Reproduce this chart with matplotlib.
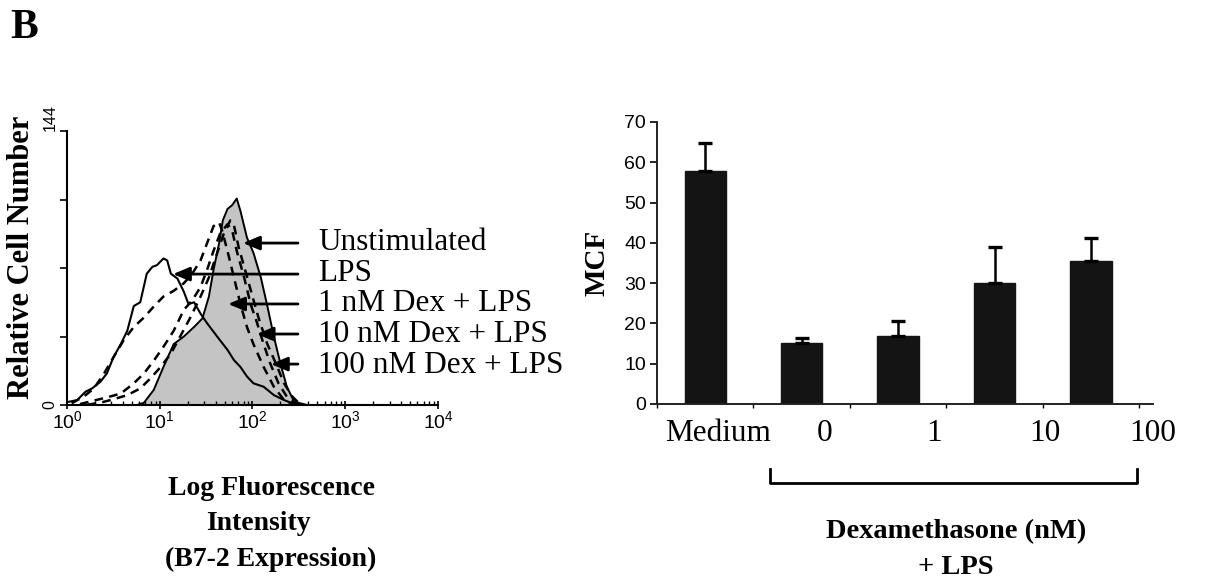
import numpy as np
import matplotlib
matplotlib.use('Agg')
import matplotlib.pyplot as plt
from matplotlib.lines import Line2D

W, H = 1208, 582
plt.rcParams['font.family'] = ['Liberation Sans', 'DejaVu Sans']
plt.rcParams['mathtext.fontset'] = 'custom'
plt.rcParams['mathtext.rm'] = 'Liberation Sans'
SERIF = ['Liberation Serif', 'DejaVu Serif']

# ---------------- data: histogram (log10 fluorescence, relative cell number) ----
unstim_logx = [0.755, 0.83, 0.935, 1.04, 1.15, 1.26, 1.37, 1.46, 1.53, 1.58, 1.64, 1.68,
               1.73, 1.78, 1.83, 1.87, 1.94, 2.01, 2.09, 2.16, 2.23, 2.30, 2.37, 2.45, 2.59]
unstim_count = [0, 1.2, 7.9, 20, 32, 36, 41, 45.5, 57, 71, 85, 97,
                103, 105, 108.5, 102, 88, 80, 67, 52, 36, 22, 9.6, 1.7, 0]

lps_logx = [0.02, 0.11, 0.2, 0.27, 0.36, 0.43, 0.5, 0.58, 0.65, 0.72, 0.79, 0.86, 0.92,
            0.97, 1.04, 1.08, 1.12, 1.19, 1.26, 1.31, 1.37, 1.44, 1.51, 1.58, 1.65, 1.73,
            1.80, 1.87, 1.94, 2.01, 2.12, 2.23, 2.34, 2.45, 2.55]
lps_count = [1.7, 2.6, 7, 8.7, 12.2, 16.6, 25, 32, 39, 52, 54, 69, 72.6,
             73.5, 77, 76, 69, 66.5, 59.5, 53, 54, 48, 43, 38.5, 34, 29,
             23.6, 20, 15, 11.4, 9.6, 5.2, 2.6, 0.5, 0]

dex1_logx = [0.05, 0.18, 0.29, 0.40, 0.50, 0.61, 0.72, 0.83, 0.94, 1.04, 1.15, 1.26, 1.35,
             1.44, 1.51, 1.58, 1.64, 1.67, 1.73, 1.80, 1.87, 1.94, 2.01, 2.12, 2.23, 2.34, 2.45]
dex1_count = [0.9, 4.4, 8.7, 16.6, 25, 34, 41, 46, 52, 57, 60, 64, 69,
              76, 85, 94, 96, 92, 81, 67, 53, 41, 32, 20, 9.6, 2.6, 0]

dex10_logx = [0.14, 0.29, 0.43, 0.58, 0.72, 0.83, 0.94, 1.04, 1.15, 1.26, 1.35, 1.44, 1.51,
              1.58, 1.65, 1.73, 1.78, 1.83, 1.91, 1.98, 2.05, 2.12, 2.19, 2.28, 2.37, 2.48]
dex10_count = [0.5, 2.3, 4, 6, 11.4, 16.6, 23.6, 30.6, 39, 50, 55, 62, 71,
               81, 90, 95, 92, 81, 67, 53, 43, 32, 22, 11.4, 4.4, 0]

dex100_logx = [0.22, 0.36, 0.50, 0.65, 0.79, 0.90, 1.01, 1.12, 1.22, 1.33, 1.44, 1.53, 1.62,
               1.69, 1.76, 1.80, 1.85, 1.92, 2.00, 2.07, 2.16, 2.25, 2.34, 2.43, 2.52]
dex100_count = [0.2, 1.2, 3, 5.2, 8.7, 14, 20, 27, 36, 46, 57, 67, 80,
                90, 97, 94.5, 83, 71, 57, 45, 32, 22, 11.4, 4.4, 0]

hist_labels = ['Unstimulated', 'LPS', '1 nM Dex + LPS', '10 nM Dex + LPS', '100 nM Dex + LPS']
hist_yticks = [0, 36, 72, 108, 144]
hist_yticklabels = ['0', '', '', '', '144']

# ---------------- data: bar chart ----------------
bar_categories = ['Medium', '0', '1', '10', '100']
mcf_values = [57.8, 15.2, 17.0, 30.1, 35.6]
mcf_errors = [6.9, 1.1, 3.7, 8.9, 5.7]


def fx(px):
    return px / W


def fy(py):
    return 1 - py / H


fig = plt.figure(figsize=(W / 100, H / 100), dpi=100)

# ---------------- histogram panel ----------------
ax1 = fig.add_axes([fx(67), fy(405), (438 - 67) / W, (405 - 131) / H])
ax1.set_xscale('log')
ax1.set_xlim(1, 1e4)
ax1.set_ylim(0, 144)

ax1.fill_between(np.power(10.0, unstim_logx), unstim_count, 0, color='#c4c4c4', lw=0, zorder=1)
ax1.plot(np.power(10.0, unstim_logx), unstim_count, color='k', lw=1.4, zorder=3)
ax1.plot(np.power(10.0, lps_logx), lps_count, color='k', lw=1.5, zorder=3)
for lx, ly in [(dex1_logx, dex1_count), (dex10_logx, dex10_count), (dex100_logx, dex100_count)]:
    ax1.plot(np.power(10.0, lx), ly, color='k', lw=1.8, dashes=(3.5, 2.5), zorder=3)

ax1.set_yticks(hist_yticks)
ax1.set_yticklabels(hist_yticklabels, rotation=90, va='center', fontsize=11.5)
ax1.get_yticklabels()[-1].set_va('bottom')
ax1.set_xticks([1, 10, 100, 1000, 10000])
ax1.set_xticklabels([r'$\mathregular{10^{%d}}$' % i for i in range(5)], fontsize=14)
ax1.tick_params(axis='y', direction='out', length=5, width=1.2, pad=2)
ax1.tick_params(axis='x', which='major', direction='inout', length=6, width=1.2, pad=1)
ax1.tick_params(axis='x', which='minor', direction='in', length=3, width=1.0)
for s in ['top', 'right']:
    ax1.spines[s].set_visible(False)
for s in ['left', 'bottom']:
    ax1.spines[s].set_linewidth(1.5)

# arrows (tips in data coords) and labels
arrow_tips = [(79, 85.1), (13.9, 68.8), (54.6, 53.1), (111, 37.3), (158, 21.5)]
label_baselines = [250, 281, 311, 342, 373]
for (tx, ty), lab, bl in zip(arrow_tips, hist_labels, label_baselines):
    ax1.annotate('', xy=(tx, ty), xytext=(309, ty),
                 arrowprops=dict(arrowstyle='-|>,head_length=1.0,head_width=0.42',
                                 color='k', lw=2, shrinkA=0, shrinkB=0),
                 annotation_clip=False, zorder=5)
    fig.text(fx(318), fy(bl), lab, family=SERIF, fontsize=22.5, ha='left', va='baseline')

fig.text(fx(22), fy(257), 'Relative Cell Number', family=SERIF, fontsize=22,
         fontweight='bold', rotation=90, ha='center', va='center')
fig.text(fx(271), fy(495), 'Log Fluorescence', family=SERIF, fontsize=20,
         fontweight='bold', ha='center', va='baseline')
fig.text(fx(258), fy(530), 'Intensity', family=SERIF, fontsize=20,
         fontweight='bold', ha='center', va='baseline')
fig.text(fx(271), fy(566), '(B7-2 Expression)', family=SERIF, fontsize=20,
         fontweight='bold', ha='center', va='baseline')

fig.text(fx(10), fy(38), 'B', family=SERIF, fontsize=30, fontweight='bold',
         ha='left', va='baseline')

# ---------------- bar panel ----------------
ax2 = fig.add_axes([fx(657), fy(404), (1153 - 657) / W, (404 - 122) / H])
xpos = np.arange(len(bar_categories))
ax2.bar(xpos, mcf_values, width=0.43, color='#141414', edgecolor='#141414', zorder=2)
ax2.errorbar(xpos, mcf_values, yerr=[np.zeros(len(mcf_errors)), mcf_errors], fmt='none',
             ecolor='k', elinewidth=1.8, capsize=4.7, capthick=2.4, zorder=3)
ax2.set_xlim(-0.5, len(bar_categories) - 0.5)
ax2.set_ylim(0, 70)
ax2.set_yticks(np.arange(0, 71, 10))
ax2.tick_params(axis='y', direction='out', length=5, width=1.2, labelsize=14, pad=3)
ax2.set_xticks(np.arange(-0.5, len(bar_categories), 1.0))
ax2.set_xticklabels([''] * (len(bar_categories) + 1))
ax2.tick_params(axis='x', which='major', direction='out', length=3, width=1.0)
label_x = [0.135, 1.24, 2.37, 3.52, 4.64]
ax2.set_xticks(label_x, minor=True)
ax2.set_xticklabels(bar_categories, minor=True, family=SERIF, fontsize=22.5)
ax2.tick_params(axis='x', which='minor', length=0, pad=11)
for s in ['top', 'right']:
    ax2.spines[s].set_visible(False)
for s in ['left', 'bottom']:
    ax2.spines[s].set_linewidth(1.4)
    ax2.spines[s].set_color('#222222')

fig.text(fx(597), fy(263), 'MCF', family=SERIF, fontsize=21, fontweight='bold',
         rotation=90, ha='center', va='center')

fig.add_artist(Line2D([fx(770), fx(770), fx(1137), fx(1137)],
                      [fy(469), fy(483), fy(483), fy(469)],
                      transform=fig.transFigure, color='k', lw=2))
fig.text(fx(956), fy(538), 'Dexamethasone (nM)', family=SERIF, fontsize=20.5,
         fontweight='bold', ha='center', va='baseline')
fig.text(fx(956), fy(574), '+ LPS', family=SERIF, fontsize=20.5,
         fontweight='bold', ha='center', va='baseline')

fig.savefig('out.png', dpi=100)
